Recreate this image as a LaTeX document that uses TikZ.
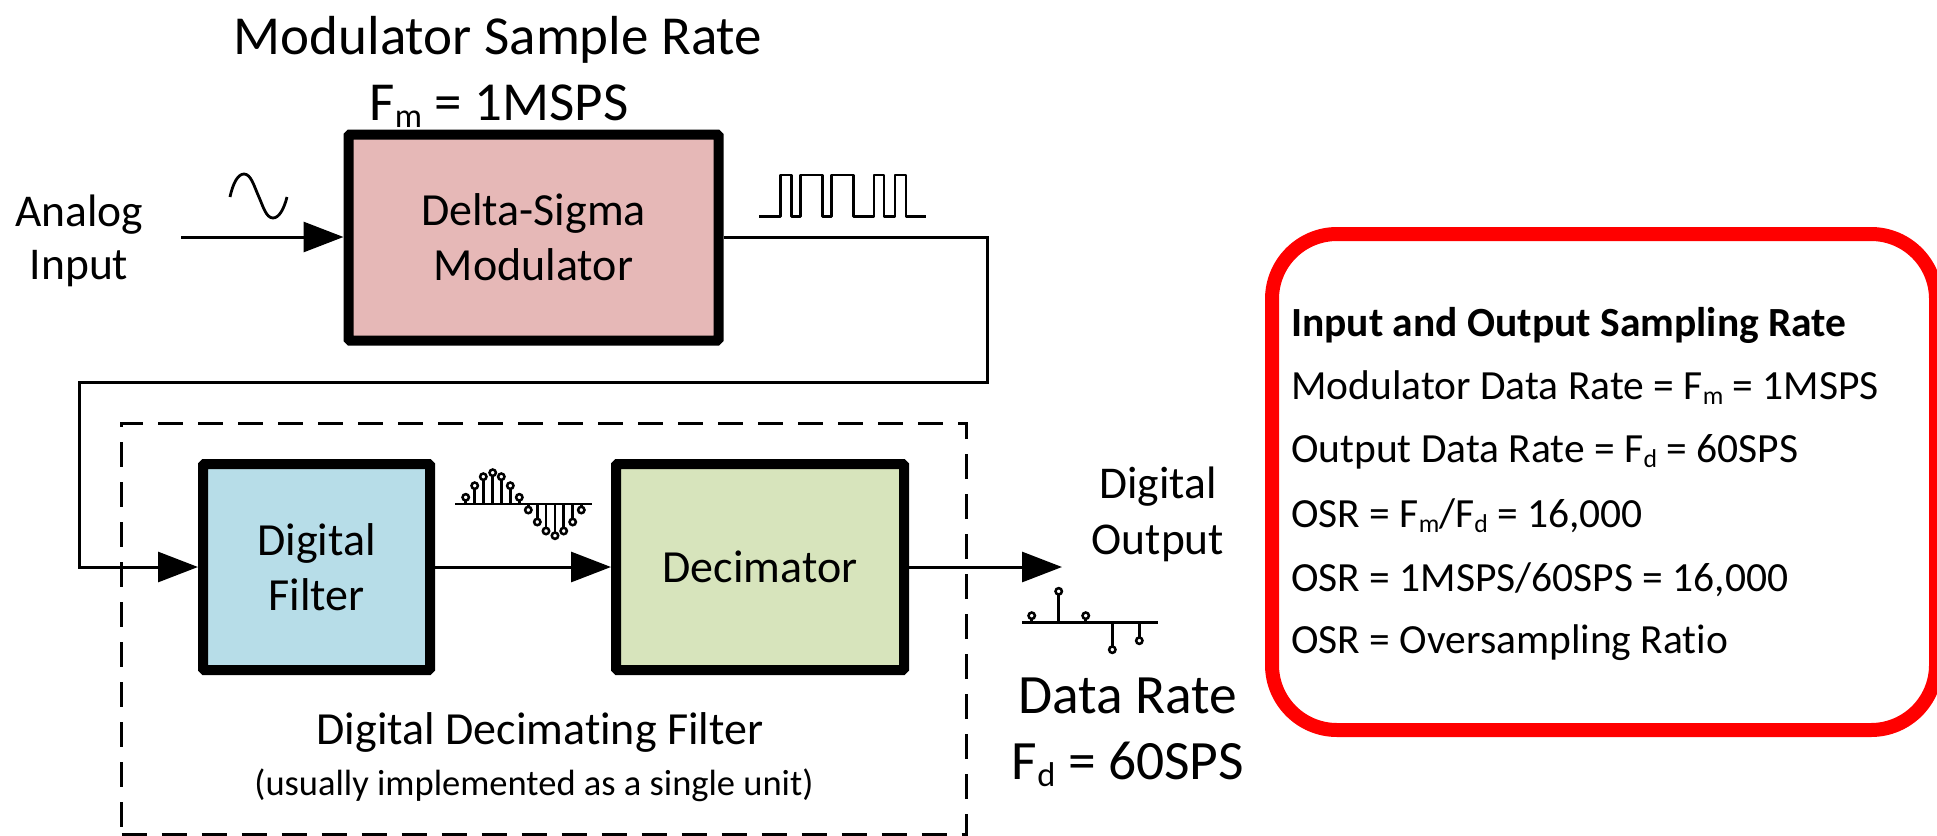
\documentclass[tikz,border=0pt]{standalone}
\usepackage{fontspec}
\usepackage{graphicx}
\setmainfont[Ligatures={NoCommon,TeX}]{Carlito}
\usetikzlibrary{arrows.meta}
\newcommand{\sbs}[1]{\raisebox{-0.14em}{\scalebox{0.62}{#1}}}
\newcommand{\fsz}[1]{\fontsize{#1}{#1}\selectfont}
\definecolor{modc}{HTML}{E6B8B7}
\definecolor{filc}{HTML}{B7DDE8}
\definecolor{decc}{HTML}{D7E4BC}
\tikzset{
 x=1pt,y=-1pt,
 blockbox/.style={draw=black,line width=10pt,rounded corners=1.5pt,inner sep=0pt,minimum height=206pt,align=center,font=\fontsize{46}{55}\selectfont},
 wire/.style={draw=black,line width=3pt},
 flow/.style={wire,-{Triangle[length=40pt,width=30pt]}},
 lbl/.style={anchor=base,inner sep=0pt,font=\fsz{#1}},
 lbl/.default=38,
 inf/.style={anchor=base west,inner sep=0pt,font=\fsz{41.5}},
 icon/.style={draw=black,line width=2.8pt,line join=round},
 stem/.style={draw=black,line width=2.5pt},
 pin/.style={draw=black,line width=2.5pt,fill=white},
}
\newcommand{\lolli}[3]{\draw[stem] (#1,#3) -- (#1,#2); \filldraw[pin] (#1,#2) circle (3.2pt);}
\begin{document}
\begin{tikzpicture}
\useasboundingbox (0,0) rectangle (1937,835);
% dashed enclosure
\node[draw=black,line width=3pt,dash pattern=on 25pt off 15pt,minimum width=845pt,minimum height=411pt,inner sep=0pt] (dd) at (544,628.5) {};
% blocks
\node[blockbox,fill=modc,minimum width=370pt] (mod) at (533.5,237.5) {Delta-Sigma\\Modulator};
\node[blockbox,fill=filc,minimum width=227pt] (fil) at (316.5,567) {Digital\\Filter};
\node[blockbox,fill=decc,minimum width=288pt] (dec) at (760,567) {Decimator};
% free ends
\coordinate (in) at (181,237);
\coordinate (r1) at (987,237);
\coordinate (r2) at (987,382);
\coordinate (l1) at (79,382);
\coordinate (l2) at (79,567);
\coordinate (out) at (1062,567);
% connectors
\draw[flow] (in) -- (in -| mod.west);
\draw[flow,line join=miter] (mod.east |- r1) -- (r1) -- (r2) -- (l1) -- (l2) -- (fil.west);
\draw[flow] (fil.east) -- (dec.west);
\draw[flow] (dec.east) -- (out);
% labels
\node[lbl=55] (t1) at (498,54) {Modulator Sample Rate};
\node[lbl=55] (t2) at (499,120) {F\sbs{m} = 1MSPS};
\node[lbl=45.5] (ai1) at (79,226) {Analog};
\node[lbl=45.5] (ai2) at (79,279) {Input};
\node[lbl=45.5] (do1) at (1158,498) {Digital};
\node[lbl=45.5] (do2) at (1158,554) {Output};
\node[lbl=55.5] (dr1) at (1128,713) {Data Rate};
\node[lbl=55.5] (dr2) at (1128,779) {F\sbs{d} = 60SPS};
\node[lbl=46] (df1) at (540,744) {Digital Decimating Filter};
\node[lbl=36.5] (df2) at (534,795) {(usually implemented as a single unit)};
% info box
\node[draw=red,line width=14pt,rounded corners=65pt,minimum width=664pt,minimum height=496pt,inner sep=0pt] (osr) at (1604,482) {};
\node[inf,font=\fsz{41.5}\bfseries] (i0) at (1291,336) {Input and Output Sampling Rate};
\node[inf] (i1) at (1291,399) {Modulator Data Rate = F\sbs{m} = 1MSPS};
\node[inf] (i2) at (1291,462) {Output Data Rate = F\sbs{d} = 60SPS};
\node[inf] (i3) at (1291,527) {OSR = F\sbs{m}/F\sbs{d} = 16,000};
\node[inf] (i4) at (1291,591) {OSR = 1MSPS/60SPS = 16,000};
\node[inf] (i5) at (1291,653) {OSR = Oversampling Ratio};
% sine icon
\draw[icon] (230,197) .. controls (233,183) and (238,174) .. (244,174) .. controls (251,174) and (254,186) .. (258.5,196) .. controls (263,206) and (266,218) .. (273,218) .. controls (279,218) and (284,209) .. (287,197);
% square wave icon
\draw[icon] (759.3,216.7) -- (780.7,216.7) -- (780.7,175) -- (791.7,175) -- (791.7,216.7) -- (800.7,216.7) -- (800.7,175) -- (822.7,175) -- (822.7,216.7) -- (831.7,216.7) -- (831.7,175) -- (853.3,175) -- (853.3,216.7) -- (874,216.7) -- (874,175) -- (884,175) -- (884,216.7) -- (895,216.7) -- (895,175) -- (906,175) -- (906,216.7) -- (926,216.7);
% sampled sine icon
\draw[icon] (455,504) -- (592,504);
\lolli{465.7}{497.3}{504}
\lolli{474.7}{485.7}{504}
\lolli{483.3}{476.7}{504}
\lolli{492.7}{472.7}{504}
\lolli{501.3}{476.7}{504}
\lolli{510.3}{485.7}{504}
\lolli{519.3}{497.3}{504}
\lolli{528.3}{510}{504}
\lolli{537.3}{522}{504}
\lolli{546}{531}{504}
\lolli{555}{535.7}{504}
\lolli{563.7}{531}{504}
\lolli{572.7}{522}{504}
\lolli{581.3}{510}{504}
% decimated icon
\draw[icon] (1022,622.7) -- (1158,622.7);
\lolli{1031.7}{615.7}{622.7}
\lolli{1058.7}{591.3}{622.7}
\lolli{1085.7}{615.7}{622.7}
\lolli{1112.3}{649.7}{622.7}
\lolli{1139.3}{640.7}{622.7}
\end{tikzpicture}
\end{document}
